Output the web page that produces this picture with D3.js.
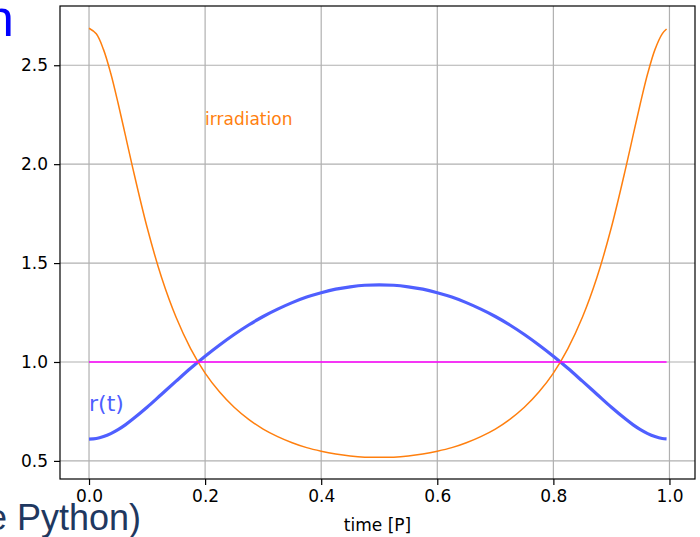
<!DOCTYPE html>
<html>
<head>
<meta charset="utf-8">
<script src="https://cdn.jsdelivr.net/npm/d3@7"></script>
<style>
  html, body { margin: 0; padding: 0; background: #fff; overflow: hidden; }
  svg { display: block; }
</style>
</head>
<body>
<svg id="chart" width="700" height="537"></svg>
<script>
// Orbit phase (fraction of period P)
const timeP = [0, 0.0125, 0.025, 0.0375, 0.05, 0.0625, 0.075, 0.1, 0.125, 0.15, 0.175, 0.2, 0.225,
  0.25, 0.275, 0.3, 0.325, 0.35, 0.375, 0.4, 0.425, 0.45, 0.475, 0.5,
  0.525, 0.55, 0.575, 0.6, 0.625, 0.65, 0.675, 0.7, 0.725, 0.75, 0.775,
  0.8, 0.825, 0.85, 0.875, 0.9, 0.925, 0.9375, 0.95, 0.9625, 0.975, 0.9875, 0.995];

// Orbital distance r(t)
const radius = [0.610, 0.613, 0.623, 0.638, 0.658, 0.682, 0.710, 0.771, 0.837, 0.903, 0.968, 1.029, 1.086,
  1.139, 1.187, 1.230, 1.267, 1.300, 1.328, 1.350, 1.368, 1.380, 1.388, 1.390,
  1.388, 1.380, 1.368, 1.350, 1.328, 1.300, 1.267, 1.230, 1.187, 1.139, 1.086,
  1.029, 0.968, 0.903, 0.837, 0.771, 0.710, 0.682, 0.658, 0.638, 0.623, 0.613, 0.611];

// Relative irradiation
const irradiation = [2.687, 2.659, 2.579, 2.458, 2.309, 2.148, 1.985, 1.681, 1.427, 1.226, 1.068, 0.944, 0.848,
  0.771, 0.710, 0.661, 0.623, 0.592, 0.567, 0.549, 0.535, 0.525, 0.519, 0.518,
  0.519, 0.525, 0.535, 0.549, 0.567, 0.592, 0.623, 0.661, 0.710, 0.771, 0.848,
  0.944, 1.068, 1.226, 1.427, 1.681, 1.985, 2.148, 2.309, 2.458, 2.579, 2.659, 2.683];

// Reference level
const refTime = [0, 0.995];
const refLevel = [1.0, 1.0];

const xTicks = [0.0, 0.2, 0.4, 0.6, 0.8, 1.0];
const yTicks = [0.5, 1.0, 1.5, 2.0, 2.5];

const svg = d3.select("#chart");
const plot = { left: 60, right: 695, top: 6, bottom: 479 };

const x = d3.scaleLinear().domain([-0.05, 1.044]).range([plot.left, plot.right]);
const y = d3.scaleLinear().domain([0.4085, 2.7995]).range([plot.bottom, plot.top]);

const font = "DejaVu Sans, Verdana, sans-serif";

// grid
const grid = svg.append("g");
grid.selectAll("line.vx").data(xTicks).join("line")
  .attr("x1", d => x(d)).attr("x2", d => x(d))
  .attr("y1", plot.top).attr("y2", plot.bottom)
  .attr("stroke", "#b0b0b0").attr("stroke-width", 1.2);
grid.selectAll("line.hy").data(yTicks).join("line")
  .attr("x1", plot.left).attr("x2", plot.right)
  .attr("y1", d => y(d)).attr("y2", d => y(d))
  .attr("stroke", "#b0b0b0").attr("stroke-width", 1.2);

const line = (xs, ys) => d3.line()
  .x((d, i) => x(xs[i])).y(d => y(d))
  .curve(d3.curveCatmullRom.alpha(0.5))(ys);

svg.append("clipPath").attr("id", "clip")
  .append("rect").attr("x", plot.left).attr("y", plot.top)
  .attr("width", plot.right - plot.left).attr("height", plot.bottom - plot.top);

const g = svg.append("g").attr("clip-path", "url(#clip)");

g.append("path").attr("d", line(timeP, radius))
  .attr("fill", "none").attr("stroke", "#4f5fff").attr("stroke-width", 3.2);

g.append("path").attr("d", line(timeP, irradiation))
  .attr("fill", "none").attr("stroke", "#ff7f0e").attr("stroke-width", 1.5);

g.append("path").attr("d", d3.line().x((d, i) => x(refTime[i])).y(d => y(d))(refLevel))
  .attr("fill", "none").attr("stroke", "#ff00ff").attr("stroke-width", 1.5);

// annotations
svg.append("text").attr("x", x(0.2)).attr("y", y(2.2))
  .attr("font-family", font).attr("font-size", 17).attr("fill", "#ff7f0e")
  .text("irradiation");
svg.append("text").attr("x", x(0.0)).attr("y", y(0.75))
  .attr("font-family", font).attr("font-size", 22).attr("fill", "#4f5fff")
  .text("r(t)");

// axes
const xAxis = d3.axisBottom(x).tickValues(xTicks).tickFormat(d3.format(".1f"))
  .tickSize(6).tickPadding(5);
const yAxis = d3.axisLeft(y).tickValues(yTicks).tickFormat(d3.format(".1f"))
  .tickSize(6).tickPadding(6);

const gx = svg.append("g").attr("transform", `translate(0,${plot.bottom})`).call(xAxis);
const gy = svg.append("g").attr("transform", `translate(${plot.left},0)`).call(yAxis);
[gx, gy].forEach(a => {
  a.select(".domain").remove();
  a.selectAll(".tick line").attr("stroke", "#000").attr("stroke-width", 1.2);
  a.selectAll(".tick text").attr("font-family", font).attr("font-size", 17).attr("fill", "#000");
});

// frame
svg.append("rect").attr("x", plot.left).attr("y", plot.top)
  .attr("width", plot.right - plot.left).attr("height", plot.bottom - plot.top)
  .attr("fill", "none").attr("stroke", "#000").attr("stroke-width", 1.2);

svg.append("text").attr("x", (plot.left + plot.right) / 2).attr("y", 531)
  .attr("text-anchor", "middle").attr("font-family", font).attr("font-size", 17)
  .attr("fill", "#000").text("time [P]");

// slide text around the figure
svg.append("text").attr("x", 14).attr("y", 36).attr("text-anchor", "end")
  .attr("font-family", "Liberation Sans, Arial, sans-serif").attr("font-size", 52)
  .attr("fill", "#0000ff").text("Irradiation");
svg.append("text").attr("x", -13).attr("y", 530)
  .attr("font-family", "Liberation Sans, Arial, sans-serif").attr("font-size", 36)
  .attr("fill", "#1f3860").text("e Python)");
</script>
</body>
</html>
